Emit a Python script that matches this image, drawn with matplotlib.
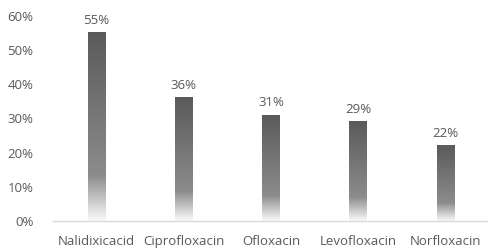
import numpy as np
import matplotlib.pyplot as plt
from matplotlib.colors import LinearSegmentedColormap

drugs = ['Nalidixicacid', 'Ciprofloxacin', 'Ofloxacin', 'Levofloxacin', 'Norfloxacin']
resist = [0.55, 0.36, 0.31, 0.29, 0.22]
yticks = [0, 0.1, 0.2, 0.3, 0.4, 0.5, 0.6]

plt.rcParams['font.family'] = ['Open Sans', 'DejaVu Sans']
txt = '#595959'

fig = plt.figure(figsize=(4.89, 2.52), dpi=100)
ax = fig.add_axes([0.108, 0.123, 0.892, 0.814])

# gradient: white at bottom -> mid grey -> dark grey top
cmap = LinearSegmentedColormap.from_list('g', [(0, '#fafafa'), (0.24, '#8c8c8c'), (1, '#5a5a5a')])
grad = np.linspace(0, 1, 256).reshape(-1, 1)

bars = ax.bar(range(len(drugs)), resist, width=0.2, color='none', edgecolor='none')
for b, v in zip(bars, resist):
    x0 = b.get_x()
    ax.imshow(grad, cmap=cmap, origin='lower', aspect='auto',
              extent=(x0, x0 + b.get_width(), 0, v), zorder=2)
    ax.text(b.get_x() + b.get_width() / 2, v + 0.018, '%d%%' % round(v * 100),
            ha='center', va='bottom', fontsize=9.5, color=txt)

ax.set_xlim(-0.5, len(drugs) - 0.5)
ax.set_ylim(0, 0.6)
ax.set_yticks(yticks)
ax.set_yticklabels(['%d%%' % round(t * 100) for t in yticks])
ax.set_xticks(range(len(drugs)))
ax.set_xticklabels(drugs)
ax.tick_params(length=0, labelsize=9.5, colors=txt)
ax.tick_params(axis='y', pad=14)
ax.tick_params(axis='x', pad=10)
for s in ['top', 'right', 'left']:
    ax.spines[s].set_visible(False)
ax.spines['bottom'].set_color('#d9d9d9')
ax.spines['bottom'].set_linewidth(1)

fig.savefig('out.png', dpi=100)
